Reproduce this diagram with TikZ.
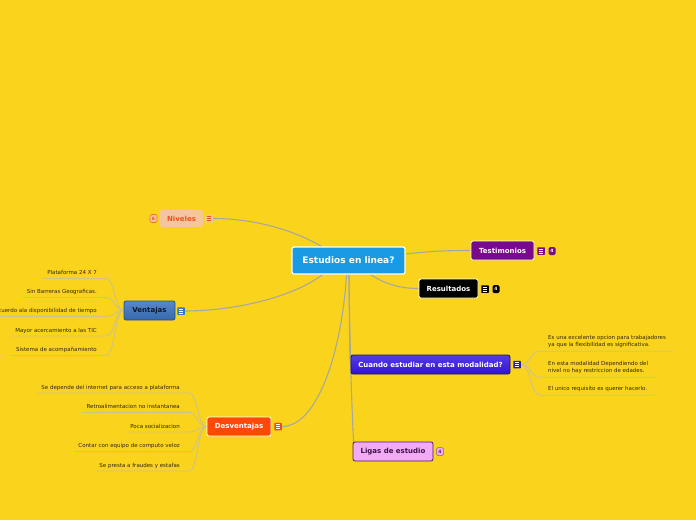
\documentclass[tikz,border=0pt]{standalone}
\usepackage{fontspec}
\setmainfont{DejaVu Sans}
\pgfdeclarelayer{paper}
\pgfdeclarelayer{lines}
\pgfsetlayers{paper,lines,main}
\definecolor{bgyellow}{RGB}{250,211,29}
\definecolor{conncol}{RGB}{168,168,162}
\definecolor{leafline}{RGB}{206,194,140}
\definecolor{leaftext}{RGB}{50,40,10}
\definecolor{centralblue}{RGB}{27,154,228}
\definecolor{nivfill}{RGB}{245,198,158}
\definecolor{nivtext}{RGB}{240,80,30}
\definecolor{nivborder}{RGB}{240,112,32}
\definecolor{testfill}{RGB}{119,11,138}
\definecolor{ventfill}{RGB}{59,115,192}
\definecolor{ventborder}{RGB}{40,80,140}
\definecolor{venttext}{RGB}{15,25,45}
\definecolor{cuandotop}{RGB}{85,60,235}
\definecolor{cuandobot}{RGB}{50,20,200}
\definecolor{cuandoborder}{RGB}{30,15,110}
\definecolor{desvfill}{RGB}{255,72,5}
\definecolor{ligasfill}{RGB}{242,170,246}
\definecolor{ligasborder}{RGB}{80,25,100}
\definecolor{ligastext}{RGB}{60,20,70}
\begin{document}
\begin{tikzpicture}[x=1pt,y=-1pt,
  topic/.style={rectangle, rounded corners=2pt, inner sep=0pt, line width=0.8pt,
    font=\bfseries\fontsize{7}{8}\selectfont, minimum height=19pt},
  leaf/.style={inner sep=0pt, text=leaftext, font=\fontsize{5.5}{7}\selectfont},
  conn/.style={draw=conncol, line width=1.1pt},
  leafconn/.style={draw=leafline, line width=0.9pt},
  iconbox/.style={rectangle, minimum size=7.5pt, inner sep=0pt, rounded corners=0.5pt},
  badge/.style={rectangle, rounded corners=1.5pt, minimum width=7pt, minimum height=8pt,
    inner sep=0pt, font=\bfseries\fontsize{4.5}{5}\selectfont}
]
\begin{pgfonlayer}{paper}
\fill[bgyellow] (0,0) rectangle (696,520);
\end{pgfonlayer}
\useasboundingbox (0,0) rectangle (696,520);

% central
\node[rectangle, rounded corners=2pt, fill=centralblue, draw=white, line width=1.2pt,
  minimum width=113pt, minimum height=27pt, inner sep=0pt, text=white,
  font=\bfseries\fontsize{9}{10}\selectfont] (c) at (348.5,260.5) {Estudios en linea?};

% topics
\node[topic, fill=nivfill, text=nivtext, minimum width=43pt, minimum height=17pt, rounded corners=3pt] (n) at (181.5,218.5) {Niveles};
\node[badge, draw=nivborder, fill=nivfill, text=nivtext, line width=0.6pt] (nb) at (153.5,218.5) {6};
\node[iconbox, fill=nivfill] (ni) at (209,218.5) {};

\node[topic, fill=testfill, draw=white, text=white, minimum width=63pt] (t) at (502.5,250.5) {Testimonios};
\node[iconbox, fill=testfill] (ti) at (541,251) {};
\node[badge, fill=testfill, text=white] (tb) at (552,251) {4};

\node[topic, fill=black, draw=white, text=white, minimum width=59pt] (r) at (448.5,288.5) {Resultados};
\node[iconbox, fill=black] (ri) at (485,289) {};
\node[badge, fill=black, text=white] (rb) at (496,289) {4};

\node[topic, top color=ventfill!85!white, bottom color=ventfill!90!black, draw=ventborder, text=venttext, minimum width=51pt] (v) at (149.5,310.5) {Ventajas};
\node[iconbox, fill=ventfill] (vi) at (181,311) {};

\node[topic, top color=cuandotop, bottom color=cuandobot, draw=cuandoborder, text=white, minimum width=159pt] (q) at (430.5,364.5) {Cuando estudiar en esta modalidad?};
\node[iconbox, fill=cuandobot] (qi) at (517,364.5) {};

\node[topic, fill=desvfill, draw=white, text=white, minimum width=64pt] (d) at (239,426.5) {Desventajas};
\node[iconbox, fill=desvfill] (di) at (278,426.5) {};

\node[topic, fill=ligasfill, draw=ligasborder, text=ligastext, minimum width=80pt] (l) at (393,451.5) {Ligas de estudio};
\node[badge, fill=ligasfill, draw=ligasborder!70!white, text=ligasborder, line width=0.5pt] (lb) at (440,451.5) {4};

% icon lines
\foreach \ic/\lc in {ni/nivtext, ti/white, ri/white, vi/white, qi/white, di/white}{
  \foreach \dy in {-2,0,2}{
    \draw[\lc, line width=0.7pt] ([shift={(-2.3pt,\dy pt)}]\ic.center) -- ([shift={(2.3pt,\dy pt)}]\ic.center);
  }
}

% Ventajas leaves
\node[leaf, anchor=base east] (v1) at (97,274.5) {Plataforma 24 X 7};
\node[leaf, anchor=base east] (v2) at (97,293.5) {Sin Barreras Geograficas.};
\node[leaf, anchor=base east] (v3) at (97,312.5) {De acuerdo ala disponibilidad de tiempo};
\node[leaf, anchor=base east] (v4) at (97,332) {Mayor acercamiento a las TIC};
\node[leaf, anchor=base east] (v5) at (97,351.5) {Sistema de acompañamiento};

% Desventajas leaves
\node[leaf, anchor=base east] (d1) at (180,389) {Se depende del internet para  acceso a plataforma};
\node[leaf, anchor=base east] (d2) at (180,408.5) {Retroalimentacion no instantanea};
\node[leaf, anchor=base east] (d3) at (180,428) {Poca socializacion};
\node[leaf, anchor=base east] (d4) at (180,447.5) {Contar con equipo de computo veloz};
\node[leaf, anchor=base east] (d5) at (180,467) {Se presta a fraudes y estafas};

% Cuando leaves
\node[leaf, anchor=north west, align=left] (q1) at (548,335) {Es una excelente opcion para trabajadores\\ya que la flexibilidad es significativa.};
\node[leaf, anchor=north west, align=left] (q2) at (548,361) {En esta modalidad Dependiendo del\\nivel no hay restriccion de edades.};
\node[leaf, anchor=north west, align=left] (q3) at (548,386) {El unico requisito es querer hacerlo.};

\begin{pgfonlayer}{lines}
% main connectors
\draw[conn] ([xshift=-27pt]c.north) .. controls (290,228) and (250,218.5) .. (ni.east);
\draw[conn] ([yshift=6.5pt]c.east) .. controls (430,251) and (450,250.5) .. (t.west);
\draw[conn] ([xshift=22pt]c.south) .. controls (385,284) and (400,288.5) .. (r.west);
\draw[conn] ([xshift=-26pt]c.south) .. controls (292,298) and (232,311) .. (vi.east);
\draw[conn] ([xshift=-2pt]c.south) .. controls (342,350) and (318,426.5) .. (di.east);
\draw[conn] ([xshift=0.5pt]c.south) .. controls (349.5,320) and (349.5,364.5) .. (q.west);
\draw[conn] ([xshift=0.5pt]c.south) .. controls (350,360) and (352,410) .. ([xshift=1pt,yshift=-1pt]l.north west);

% Ventajas leaf connectors
\foreach \k in {v1,v2,v3,v4,v5}{
  \draw[leafconn] ([shift={(-4pt,-4pt)}]\k.base west) -- ([shift={(9pt,-4pt)}]\k.base east)
    .. controls +(9,0) and +(-9,0) .. (v.west);
}
% Desventajas leaf connectors
\foreach \k in {d1,d2,d3,d4,d5}{
  \draw[leafconn] ([shift={(-4pt,-4pt)}]\k.base west) -- ([shift={(9pt,-4pt)}]\k.base east)
    .. controls +(9,0) and +(-9,0) .. (d.west);
}
% Cuando leaf connectors
\foreach \k in {q1,q2,q3}{
  \draw[leafconn] (qi.east) .. controls +(10,0) and +(-10,0) .. ([shift={(-8pt,-3.5pt)}]\k.south west)
    -- ([shift={(7pt,-3.5pt)}]\k.south east);
}
\end{pgfonlayer}
\end{tikzpicture}
\end{document}
